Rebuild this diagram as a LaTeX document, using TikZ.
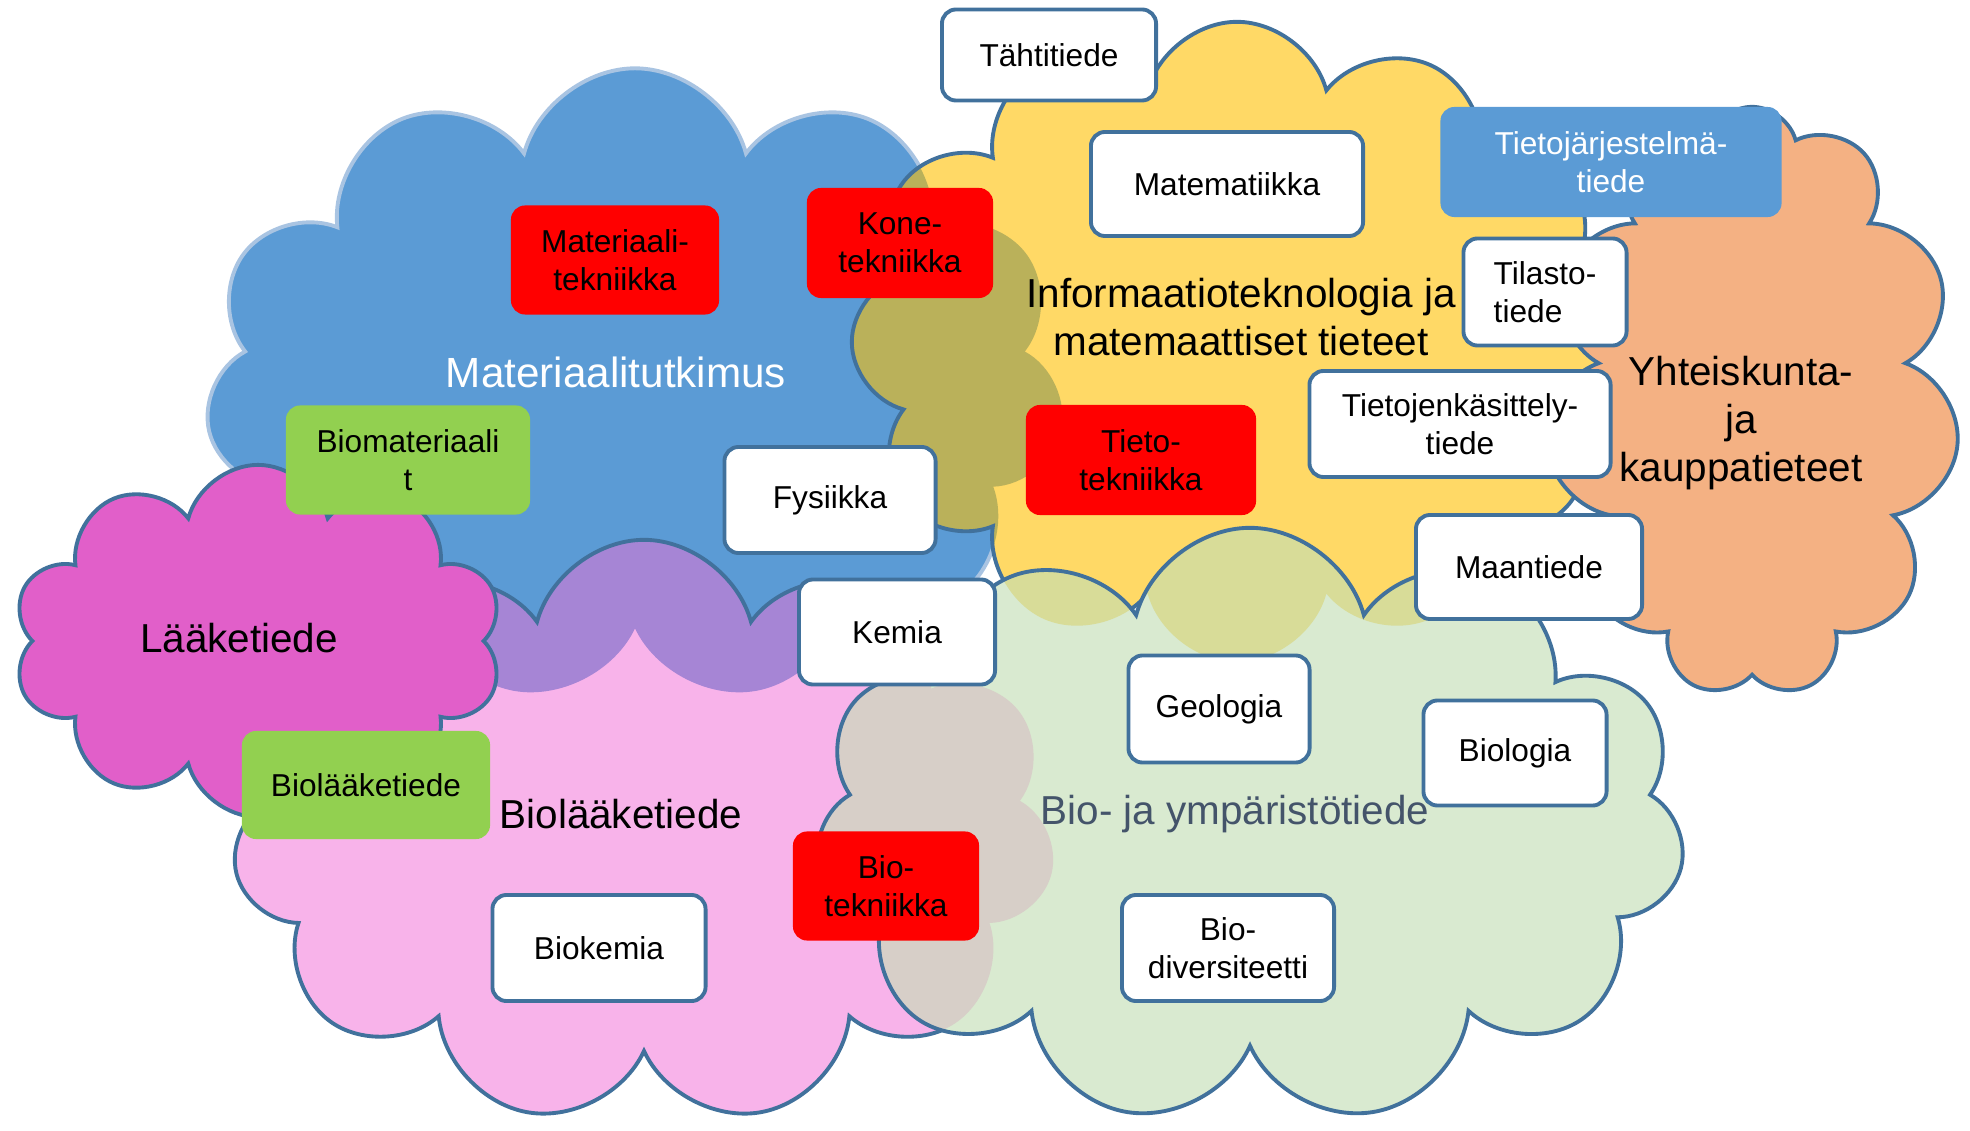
\documentclass[tikz,border=0pt]{standalone}
\usepackage{fontspec}
\setmainfont{Liberation Sans}
\usepackage{tikz}
\usetikzlibrary{shapes.symbols}
\definecolor{reuna}{HTML}{41719C}
\definecolor{vaalea}{HTML}{A9C4E2}
\definecolor{sininen}{HTML}{5B9BD5}
\definecolor{keltainen}{HTML}{FFD966}
\definecolor{oranssi}{HTML}{F4B183}
\definecolor{laake}{HTML}{E15FC9}
\definecolor{roosa}{HTML}{F8B3EA}
\definecolor{vihrea}{HTML}{D9EAD0}
\definecolor{oliivi}{HTML}{BAB15A}
\definecolor{violetti}{HTML}{A685D5}
\definecolor{harmaa}{HTML}{D7CFC8}
\definecolor{kelvih}{HTML}{D8DC98}
\definecolor{ruoho}{HTML}{92D050}
\definecolor{tumma}{HTML}{44546A}
\tikzset{
  pilvi/.style={cloud, cloud puffs=#1, cloud ignores aspect, inner sep=0pt, line width=1.1pt, draw=reuna},
  matpilvi/.style={pilvi=11, minimum width=8.6cm, minimum height=6.35cm},
  infpilvi/.style={pilvi=12, minimum width=7.7cm, minimum height=6.4cm},
  yhtpilvi/.style={pilvi=11, minimum width=4.15cm, minimum height=5.9cm},
  laapilvi/.style={pilvi=10, minimum width=4.9cm, minimum height=3.52cm},
  biopilvi/.style={pilvi=11, minimum width=8.23cm, minimum height=5.84cm},
  ympilvi/.style={pilvi=11, minimum width=8.7cm, minimum height=5.96cm},
  otsikko/.style={align=center, font=\fontsize{11.5}{13.6}\selectfont},
  laatikko/.style={rectangle, rounded corners=4pt, draw=reuna, line width=1.1pt, fill=white,
    align=center, inner sep=0pt, font=\fontsize{9}{10.8}\selectfont},
  punainen/.style={laatikko, draw=none, fill=red},
  vihrea laatikko/.style={laatikko, draw=none, fill=ruoho},
}

\begin{document}
\begin{tikzpicture}[x=0.01cm, y=-0.01cm]
\useasboundingbox (0,0) rectangle (1970,1131);

% pilvet
\node[matpilvi, fill=sininen, draw=vaalea] (mat) at (635,386) {};
\node[infpilvi, fill=keltainen, path picture={
  \node[matpilvi, fill=oliivi, draw=none] at (mat.center) {};}] (inf) at (1237,342) {};
\node[yhtpilvi, fill=oranssi] (yht) at (1752,402) {};
\node[biopilvi, fill=roosa, path picture={
  \node[matpilvi, fill=violetti, draw=none] at (mat.center) {};}] (bio) at (644,832) {};
\node[ympilvi, fill=vihrea, path picture={
  \node[biopilvi, fill=harmaa, draw=none] at (bio.center) {};
  \node[infpilvi, fill=kelvih, draw=none] at (inf.center) {};}] (ymp) at (1250,826) {};
\node[laapilvi, fill=laake] (laa) at (258,641) {};

% alojen nimet
\node[otsikko, text=white, font=\fontsize{12}{14}\selectfont] (matnimi) at (616,372) {Materiaalitutkimus};
\node[otsikko] (infnimi) at (1241,317) {Informaatioteknologia ja\\matemaattiset tieteet};
\node[otsikko] (yhtnimi) at (1741,423) {Yhteiskunta-\\ja\\kauppatieteet};
\node[otsikko] (laanimi) at (239,638) {Lääketiede};
\node[otsikko] (bionimi) at (621,814) {Biolääketiede};
\node[otsikko, text=tumma] (ympnimi) at (1235,814) {Bio- ja ympäristötiede};

% tieteenalat
\node[laatikko, minimum width=2.14cm, minimum height=0.91cm] (tahti) at (1049,55) {Tähtitiede};
\node[laatikko, minimum width=2.72cm, minimum height=1.04cm] (mate) at (1227,184) {Matematiikka};
\node[laatikko, draw=none, fill=sininen, text=white, minimum width=3.41cm, minimum height=1.1cm] (tjt) at (1611,162) {Tietojärjestelmä-\\tiede};
\node[laatikko, align=left, minimum width=1.63cm, minimum height=1.07cm] (tila) at (1545,292) {Tilasto-\\tiede};
\node[laatikko, minimum width=3.01cm, minimum height=1.06cm] (tkt) at (1460,424) {Tietojenkäsittely-\\tiede};
\node[laatikko, minimum width=2.26cm, minimum height=1.04cm] (maa) at (1529,567) {Maantiede};
\node[punainen, minimum width=2.08cm, minimum height=1.09cm] (mattek) at (615,260) {Materiaali-\\tekniikka};
\node[punainen, minimum width=1.86cm, minimum height=1.1cm] (kone) at (900,243) {Kone-\\tekniikka};
\node[punainen, minimum width=2.3cm, minimum height=1.1cm] (tieto) at (1141,460) {Tieto-\\tekniikka};
\node[vihrea laatikko, minimum width=2.44cm, minimum height=1.09cm] (biomat) at (408,460) {Biomateriaali\\t};
\node[laatikko, minimum width=2.11cm, minimum height=1.06cm] (fys) at (830,500) {Fysiikka};
\node[laatikko, minimum width=1.96cm, minimum height=1.05cm] (kem) at (897,632) {Kemia};
\node[laatikko, minimum width=1.81cm, minimum height=1.07cm] (geo) at (1219,709) {Geologia};
\node[laatikko, minimum width=1.83cm, minimum height=1.05cm] (biol) at (1515,753) {Biologia};
\node[vihrea laatikko, minimum width=2.48cm, minimum height=1.08cm] (biolaa) at (366,785) {Biolääketiede};
\node[punainen, minimum width=1.86cm, minimum height=1.09cm] (biotek) at (886,886) {Bio-\\tekniikka};
\node[laatikko, minimum width=2.13cm, minimum height=1.06cm] (biokem) at (599,948) {Biokemia};
\node[laatikko, minimum width=2.12cm, minimum height=1.06cm] (biodiv) at (1228,948) {Bio-\\diversiteetti};
\end{tikzpicture}
\end{document}
